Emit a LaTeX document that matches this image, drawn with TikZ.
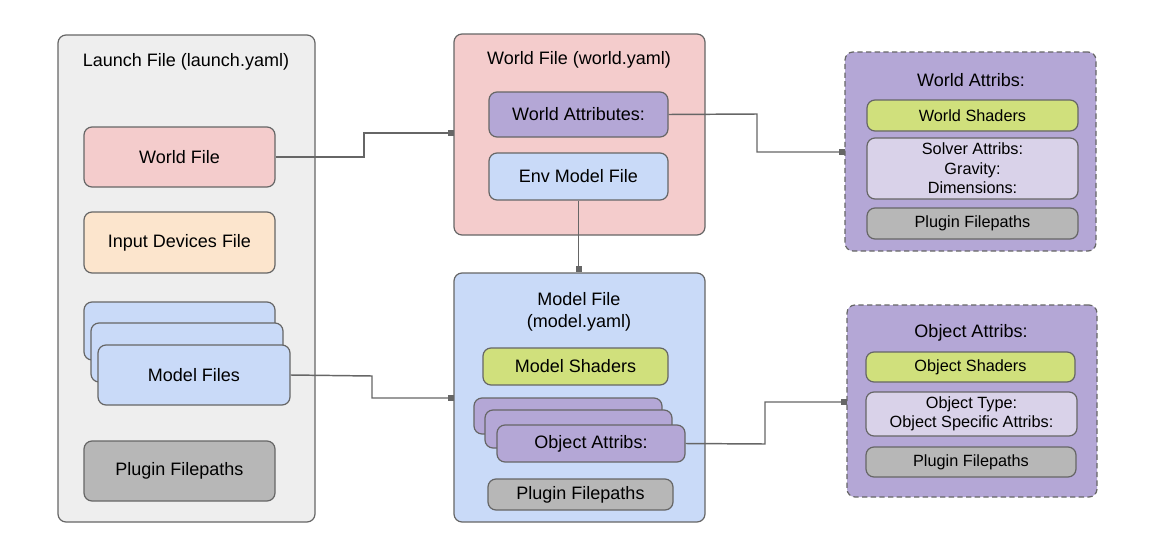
\documentclass[tikz,border=0pt]{standalone}
\usepackage{fontspec}
\setmainfont{Liberation Sans}
\usetikzlibrary{arrows.meta}
\definecolor{bordc}{HTML}{666666}
\definecolor{launchbg}{HTML}{EEEEEE}
\definecolor{pinkc}{HTML}{F4CCCC}
\definecolor{peachc}{HTML}{FCE5CD}
\definecolor{bluec}{HTML}{C9DAF8}
\definecolor{grayc}{HTML}{B7B7B7}
\definecolor{purpc}{HTML}{B4A7D6}
\definecolor{lpurpc}{HTML}{D9D2E9}
\definecolor{limec}{HTML}{D0E07C}
\tikzset{
  box/.style={draw=bordc, line width=0.9pt, rounded corners=6pt, inner sep=0pt, align=center, font=\fontsize{13.5}{16}\selectfont},
  smallbox/.style={box, font=\fontsize{12.2}{14.5}\selectfont},
  dashbox/.style={box, dash pattern=on 4pt off 2.5pt},
  title/.style={inner sep=0pt, align=center, font=\fontsize{13.5}{16.5}\selectfont},
  conn/.style={draw=bordc, line width=1.1pt, -{Square[length=4.5pt,width=4.5pt]}},
}
% \bx[style]{name}{x1}{y1}{x2}{y2}{fill}{text}
\newcommand\bx[8][box]{%
  \node[#1, fill=#7, minimum width={(#5-#3)*0.75pt}, minimum height={(#6-#4)*0.75pt}]
    (#2) at ({(#3+#5)/2},{(#4+#6)/2}) {#8};}
\begin{document}
\begin{tikzpicture}[x=0.75pt,y=-0.75pt]
\useasboundingbox (0,0) rectangle (1157,553);
% containers
\bx{launch}{58}{35}{315}{522}{launchbg}{}
\node[title] (launchT) at (186,62) {Launch File (launch.yaml)};
\bx{worldC}{454}{34}{705}{235}{pinkc}{}
\node[title] (worldT) at (579,60) {World File (world.yaml)};
\bx{modelC}{454}{273}{705}{522}{bluec}{}
\node[title] (modelT) at (579,312) {Model File\\(model.yaml)};
\bx[dashbox]{wattC}{845}{52}{1096}{251}{purpc}{}
\node[title] (wattT) at (971,80) {World Attribs:};
\bx[dashbox]{oattC}{847}{305}{1097}{497}{purpc}{}
\node[title] (oattT) at (971,333) {Object Attribs:};
% launch contents
\bx{wf}{84}{127}{275}{187}{pinkc}{World File}
\bx{idf}{84}{212}{275}{273}{peachc}{Input Devices File}
\bx{mfa}{84}{302}{275}{360}{bluec}{}
\bx{mfb}{91}{323}{283}{382}{bluec}{}
\bx{mf}{98}{345}{290}{405}{bluec}{Model Files}
\bx{lpf}{84}{441}{275}{501}{grayc}{Plugin Filepaths}
% world file contents
\bx{wa}{489}{92}{668}{137}{purpc}{World Attributes:}
\bx{emf}{489}{153}{668}{200}{bluec}{Env Model File}
% model file contents
\bx{ms}{483}{348}{668}{385}{limec}{Model Shaders}
\bx{oaa}{474}{398}{662}{434}{purpc}{}
\bx{oab}{485}{410}{672}{448}{purpc}{}
\bx{oa}{497}{425}{685}{462}{purpc}{Object Attribs:}
\bx{mpf}{488}{479}{673}{510}{grayc}{Plugin Filepaths}
% world attribs contents
\bx[smallbox]{ws}{867}{100}{1078}{131}{limec}{World Shaders}
\bx[smallbox]{sa}{867}{138}{1078}{199}{lpurpc}{Solver Attribs:\\Gravity:\\Dimensions:}
\bx[smallbox]{wpf}{867}{208}{1078}{239}{grayc}{Plugin Filepaths}
% object attribs contents
\bx[smallbox]{os}{866}{352}{1075}{382}{limec}{Object Shaders}
\bx[smallbox]{ot}{866}{392}{1077}{436}{lpurpc}{Object Type:\\Object Specific Attribs:}
\bx[smallbox]{opf}{866}{447}{1076}{477}{grayc}{Plugin Filepaths}
% connectors
\coordinate (e1) at (454,133);
\coordinate (e2) at (845,152);
\coordinate (e4) at (454,398);
\coordinate (e5) at (847,402);
\draw[conn] (wf.east) -- (364,157) -- (364,133) -- (e1);
\draw[conn] (wa.east) -- (757,114) -- (757,152) -- (e2);
\draw[conn] (emf.south) -- (modelC.north -| emf.south);
\draw[conn] (mf.east) -- (372,376) -- (372,398) -- (e4);
\draw[conn] (oa.east) -- (765,444) -- (765,402) -- (e5);
\end{tikzpicture}
\end{document}
